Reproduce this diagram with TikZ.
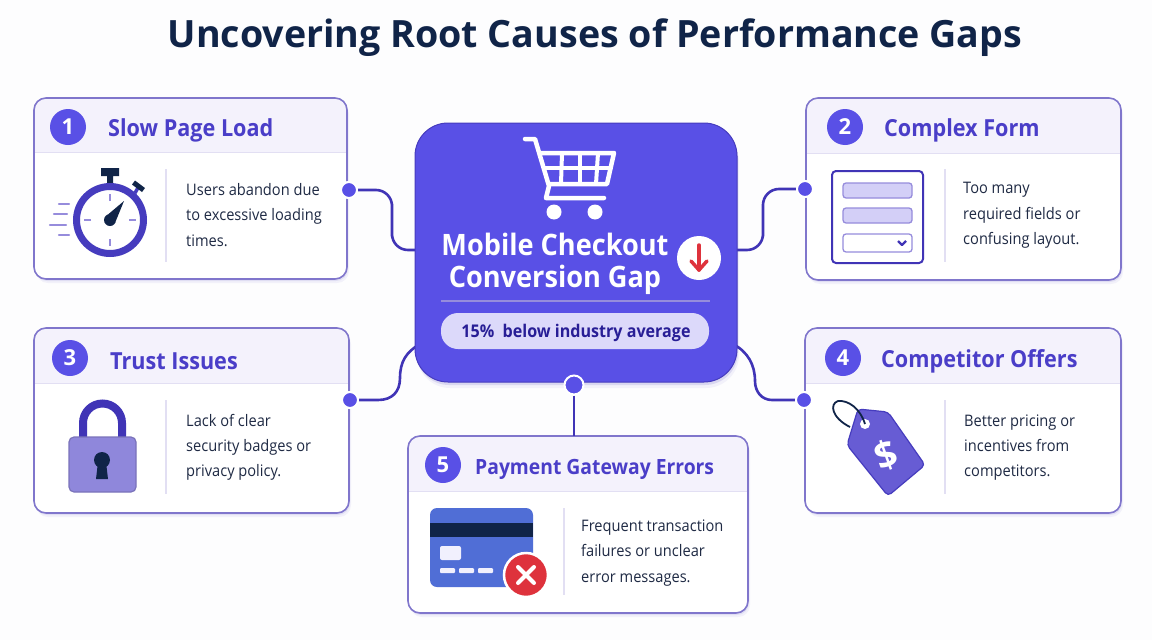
\documentclass[tikz,border=0pt]{standalone}
\usepackage{fontspec}
\setmainfont{Open Sans}
\newfontfamily\slimfont[FakeStretch=0.92]{Open Sans}
\usetikzlibrary{arrows.meta, calc, positioning, shadows}
\definecolor{pagewhite}{RGB}{253,253,254}
\definecolor{titlenavy}{RGB}{16,36,72}
\definecolor{hubblue}{RGB}{89,80,230}
\definecolor{hubline}{RGB}{70,60,190}
\definecolor{wireblue}{RGB}{64,52,182}
\definecolor{headblue}{RGB}{74,62,200}
\definecolor{cardline}{RGB}{128,118,204}
\definecolor{headfill}{RGB}{244,242,252}
\definecolor{rulefill}{RGB}{226,223,243}
\definecolor{bodydark}{RGB}{31,42,68}
\definecolor{softviolet}{RGB}{150,140,220}
\definecolor{palefill}{RGB}{211,207,247}
\definecolor{pillfill}{RGB}{220,217,250}
\definecolor{pilltext}{RGB}{40,30,150}
\definecolor{lockfill}{RGB}{143,135,219}
\definecolor{tagfill}{RGB}{103,92,212}
\definecolor{bankblue}{RGB}{80,110,214}
\definecolor{alertred}{RGB}{222,50,60}
\tikzset{
  card/.style={draw=none, fill=white, rounded corners=12, outer sep=0,
    drop shadow={shadow xshift=1pt, shadow yshift=-2pt, opacity=.10, fill=hubline},
    drop shadow={shadow xshift=2pt, shadow yshift=-4pt, opacity=.06, fill=hubline}},
  numdot/.style={circle, fill=hubblue, text=white, minimum size=36, inner sep=0, font=\fontsize{22}{24}\selectfont\bfseries},
  headtext/.style={anchor=west, inner sep=0, text=headblue, font=\slimfont\fontsize{23.5}{26}\selectfont\bfseries},
  bodytext/.style={anchor=west, inner sep=0, align=left, text=bodydark, font=\slimfont\fontsize{15.9}{25.3}\selectfont},
  joint/.style={circle, fill=hubblue, draw=white, line width=2, minimum size=16, inner sep=0},
  wire/.style={draw=wireblue, line width=2.6},
  divider/.style={draw=rulefill, line width=1.5},
  fieldbox/.style={draw=softviolet, line width=1.3, rounded corners=3},
}
% card outline and header band
\newcommand{\cardframe}[2]{
  \begin{scope}
    \clip[rounded corners=12] (#1.south west) rectangle (#1.north east);
    \fill[headfill] (#1.north west) rectangle (#1.east |- 0,#2);
    \draw[rulefill, line width=1] (#1.west |- 0,#2) -- (#1.east |- 0,#2);
  \end{scope}
  \draw[cardline, line width=1.6, rounded corners=12] (#1.south west) rectangle (#1.north east);
}
\begin{document}
\begin{tikzpicture}[x=1pt, y=-1pt]
\useasboundingbox[fill=pagewhite] (0,0) rectangle (1152,640);

% Title
\node[text=titlenavy, font=\fontsize{37.6}{40}\selectfont\bfseries, inner sep=0] (title) at (595,38) {Uncovering Root Causes of Performance Gaps};

% Cards
\node[card, minimum width=313, minimum height=181] (slow) at (190.5,188.5) {};
\node[card, minimum width=315, minimum height=182] (form) at (963.5,189) {};
\node[card, minimum width=315, minimum height=185] (trust) at (191.5,420.5) {};
\node[card, minimum width=316, minimum height=185] (rival) at (963,420.5) {};
\node[card, minimum width=340, minimum height=177] (errors) at (578,524.5) {};
\cardframe{slow}{152}
\cardframe{form}{153}
\cardframe{trust}{383}
\cardframe{rival}{383}
\cardframe{errors}{491}

% Joints on the cards and ends on the hub
\node[joint] (dotslow) at (349,190) {};
\node[joint] (dotform) at (805,189) {};
\node[joint] (dottrust) at (350,400) {};
\node[joint] (dotrival) at (804,400) {};
\coordinate (bendslow) at (392,220);
\coordinate (bendform) at (763,220);
\coordinate (endslow) at (420,250);
\coordinate (endform) at (732,250);
\coordinate (endtrust) at (420,344);
\coordinate (endrival) at (733,344);
\coordinate (enderrors) at (574,436);

% Connectors
\draw[wire, rounded corners=16] (dotslow) -| (bendslow) |- (endslow);
\draw[wire, rounded corners=16] (dotform) -| (bendform) |- (endform);
\draw[wire] (dottrust) -- (378,400) .. controls (392,400) and (400,392) .. (400,378) .. controls (400,362) and (406,352) .. (endtrust);
\draw[wire] (dotrival) -- (772,400) .. controls (762,400) and (755,392) .. (755,381) .. controls (755,365) and (748,352) .. (endrival);

% Hub
\node[fill=hubblue, draw=hubline, line width=1, rounded corners=33, outer sep=0,
  minimum width=322, minimum height=259,
  drop shadow={shadow xshift=1pt, shadow yshift=-3pt, opacity=.14, fill=hubline},
  drop shadow={shadow xshift=2pt, shadow yshift=-6pt, opacity=.06, fill=hubline}] (hub) at (576,252.5) {};
\node[joint, minimum size=19] (dothub) at (574,385) {};
\draw[wire] (dothub) -- (enderrors);
\node[joint] (dotslow) at (349,190) {};
\node[joint] (dotform) at (805,189) {};
\node[joint] (dottrust) at (350,400) {};
\node[joint] (dotrival) at (804,400) {};

% Cart
\draw[white, line width=4.5, line cap=round, line join=round]
  (525,139) -- (535,139) -- (549,186) -- (546,198) -- (604,198);
\draw[white, line width=4.5, line join=round] (539,153) -- (614,153) -- (607,184) -- (549,184);
\draw[white, line width=4] (544,168) -- (610,168);
\foreach \xtop/\xlow in {562/561, 580/580, 598/596}
  \draw[white, line width=4] (\xtop,153) -- (\xlow,184);
\fill[white] (554,212) circle (7.5) (595,212) circle (7.5);

% Hub text
\node[align=center, text=white, inner sep=0, font=\slimfont\fontsize{29.5}{32}\selectfont\bfseries] (hubtext) at (555,264) {Mobile Checkout\\Conversion Gap};
\node[circle, fill=white, minimum size=44, inner sep=0] (badge) at (699,258) {};
\draw[alertred, line width=3.5, line cap=round, line join=round] (699,245) -- (699,270);
\draw[alertred, line width=3.5, line cap=round, line join=round] (691,261) -- (699,270) -- (707,261);
\draw[softviolet, line width=1.2] (441,301) -- (710,301);
\node[fill=pillfill, rounded corners=17, minimum width=268, minimum height=36, inner sep=0] (pill) at (575,331) {};
\node[inner sep=0, text=pilltext, font=\slimfont\fontsize{17.5}{20}\selectfont\bfseries] (gap) at (576,333) {15\%\ \ below industry average};

% Card 1
\node[numdot] (numslow) at (68,127) {1};
\node[headtext] (headslow) at (108,130) {Slow Page Load};
\draw[divider] (166,169) -- (166,262);
\node[bodytext] (textslow) at (186,215) {Users abandon due\\to excessive loading\\times.};
\draw[softviolet, line width=2.4, line cap=round] (59,204) -- (69,204) (54,214) -- (67,214) (50,225) -- (66,225) (59,235) -- (69,235);
\fill[titlenavy] (101,168) rectangle (119,176) (107,176) rectangle (113,183);
\draw[hubline, line width=3.5] (135,193) -- (139,186);
\draw[titlenavy, line width=5] (133.5,182.5) -- (143.5,190);
\draw[hubline, line width=7, fill=white] (110,220) circle (33.5);
\foreach \tickx/\ticky in {0/-1, 1/0, 0/1, -1/0}
  \draw[softviolet, line width=2.2] ($(110,220)+(\tickx*19,\ticky*19)$) -- ($(110,220)+(\tickx*26,\ticky*26)$);
\fill[titlenavy] (110,220) circle (6) (105,217) -- (124,201) -- (115,223) -- cycle;

% Card 2
\node[numdot] (numform) at (845,127) {2};
\node[headtext] (headform) at (884,130) {Complex Form};
\draw[divider] (945,169) -- (945,262);
\node[bodytext] (textform) at (963,215.5) {Too many\\required fields or\\confusing layout.};
\draw[wireblue, line width=2, rounded corners=4] (832,171) rectangle (923,263);
\draw[fieldbox, fill=palefill] (843,183) rectangle (912,198);
\draw[fieldbox, fill=palefill] (843,208) rectangle (912,223);
\draw[fieldbox, fill=white] (843,234) rectangle (912,252);
\draw[wireblue, line width=2.2, line join=round] (898,241) -- (902,245) -- (906,241);

% Card 3
\node[numdot] (numtrust) at (70,358) {3};
\node[headtext] (headtrust) at (110,361) {Trust Issues};
\draw[divider] (166,400) -- (166,494);
\node[bodytext] (texttrust) at (186,447.5) {Lack of clear\\security badges or\\privacy policy.};
\draw[wireblue, line width=8] (83,438) -- (83,423) arc[start angle=180, end angle=360, radius=19.5] -- (122,438);
\draw[lockfill!85!black, fill=lockfill, line width=1.2, rounded corners=5] (69,437) rectangle (136,492);
\fill[titlenavy] (102,460) circle (8) (98,462) -- (106,462) -- (108,479) -- (96,479) -- cycle;

% Card 4
\node[numdot] (numrival) at (843,358) {4};
\node[headtext] (headrival) at (881,361) {Competitor Offers};
\draw[divider] (945,400) -- (945,494);
\node[bodytext] (textrival) at (964,447.5) {Better pricing or\\incentives from\\competitors.};
\draw[hubline, fill=tagfill, line width=1.2, rounded corners=4] (858,409) -- (888,412) -- (925,465) -- (888,496) -- (847,445) -- cycle;
\fill[white] (865,424) circle (5);
\draw[titlenavy, line width=1.8] (865,424) .. controls (860,408) and (848,400) .. (838,401) .. controls (829,404) and (832,418) .. (850,427);
\node[rotate=20, text=white, inner sep=0, font=\fontsize{38}{40}\selectfont\bfseries] (dollar) at (886,455) {\$};

% Card 5
\node[numdot] (numerrors) at (443,465) {5};
\node[headtext, font=\slimfont\fontsize{21}{24}\selectfont\bfseries] (headerrors) at (475,469) {Payment Gateway Errors};
\draw[divider] (564,508) -- (564,595);
\node[bodytext] (texterrors) at (581,553) {Frequent transaction\\failures or unclear\\error messages.};
\fill[bankblue, rounded corners=7] (430,508) rectangle (533,587);
\fill[titlenavy] (430,523) rectangle (533,537);
\fill[pillfill!40!white, rounded corners=2] (440,546) rectangle (461,560);
\foreach \dashx in {440,459,478}
  \fill[pillfill!40!white, rounded corners=1] (\dashx,568) rectangle ++(15,5);
\node[circle, fill=alertred, draw=white, line width=2.5, minimum size=44, inner sep=0] (fail) at (526,575) {};
\draw[white, line width=4, line cap=round] (518,567) -- (534,583) (534,567) -- (518,583);

\end{tikzpicture}
\end{document}
